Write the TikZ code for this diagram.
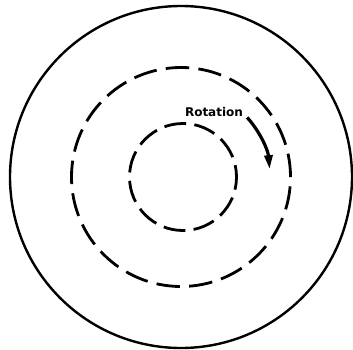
\documentclass[tikz,border=0pt]{standalone}
\usepackage{fontspec}
\setmainfont{DejaVu Sans}
\usetikzlibrary{arrows.meta}
\begin{document}
\begin{tikzpicture}[x=1pt,y=1pt,
  outerring/.style={line width=2.4pt},
  dashring/.style={line width=2.8pt},
  rotarrow/.style={line width=3.2pt,-{Triangle[length=14pt,width=8pt]}},
  lbl/.style={font=\bfseries\fontsize{12}{14}\selectfont,inner sep=0pt}]
\useasboundingbox (0,0) rectangle (353,349);
\coordinate (c) at (181,172);
\draw[outerring] (c) circle[radius=171];
\draw[dashring,dash pattern=on 23.5pt off 9.26pt] (c) circle[radius=109.5];
\draw[dashring,dash pattern=on 22pt off 8.3pt,dash phase=10pt] (183,172) circle[radius=53.5];
\node[lbl,anchor=base] (rot) at (214,233) {Rotation};
\draw[rotarrow] (c) ++(42:89) coordinate (a1) arc[start angle=42,end angle=5,radius=89] coordinate (a2);
\end{tikzpicture}
\end{document}
